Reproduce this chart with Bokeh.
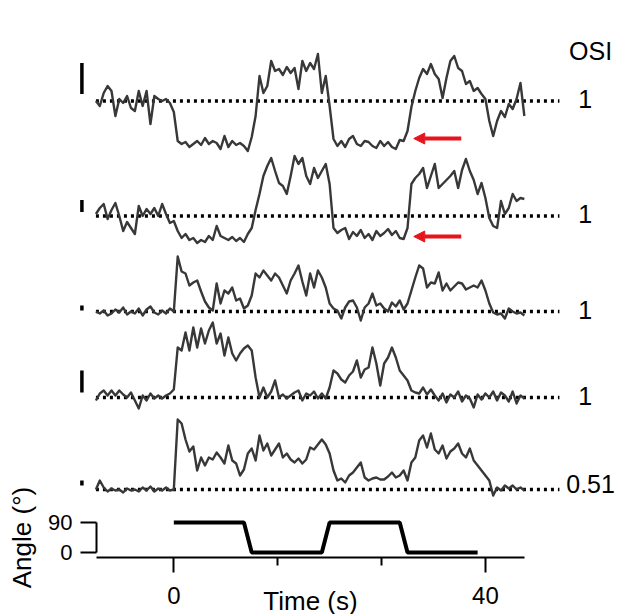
import numpy as np
from bokeh.plotting import figure
from bokeh.models import (ColumnDataSource, Label, Arrow, NormalHead, FixedTicker,
                          LinearAxis, Range1d)
from bokeh.embed import file_html
from bokeh.resources import INLINE

# ---------------- data ----------------
time_s = [-10 + 0.5 * i for i in range(111)]

trace_1 = [0, -5, 8, 15, 10, -15, 2, -2, 5, -7,
           -10, 10, -5, 10, -23, 5, 2, 0, 2, -2,
           -11, -40, -43, -41, -46, -43, -40, -44, -37, -43,
           -40, -42, -48, -35, -46, -40, -44, -42, -45, -50,
           -36, -15, 25, 8, 15, 40, 30, 32, 26, 34,
           28, 33, 12, 40, 30, 38, 32, 47, 8, 25,
           -5, -38, -45, -40, -46, -38, -35, -43, -45, -40,
           -41, -45, -47, -40, -45, -41, -46, -48, -39, -40,
           -30, -6, 10, 23, 32, 27, 37, 27, 22, 3,
           23, 40, 45, 33, 30, 17, 20, 10, 13, 7,
           2, -20, -35, -20, -10, -16, -3, -8, 2, 18, -15]

trace_2 = [2, 8, 12, -3, 6, 13, 0, -15, -6, -12,
           -18, 10, 0, 7, 2, 8, 0, 12, 2, -7,
           -5, -15, -22, -18, -24, -22, -27, -24, -26, -20,
           -24, -10, -20, -22, -24, -21, -25, -22, -26, -18,
           -12, 6, 22, 40, 50, 58, 45, 33, 30, 22,
           40, 60, 52, 58, 40, 32, 48, 38, 45, 52,
           32, -12, -17, -14, -12, -23, -16, -20, -14, -22,
           -18, -24, -15, -20, -17, -13, -19, -15, -22, -23,
           -12, 32, 38, 42, 48, 28, 40, 52, 28, 32,
           36, 40, 45, 28, 46, 57, 45, 36, 22, 33,
           18, -2, -10, -12, 15, 2, 8, 22, 15, 18, 17]

trace_3 = [0, -2, 1, -4, -2, 2, -1, 4, -3, 0,
           -2, 3, -4, 2, 5, -1, -3, 1, -2, 3,
           0, 55, 40, 38, 26, 29, 31, 20, 10, 4,
           1, 28, 8, 21, 18, 24, 11, 13, 3, 6,
           16, 38, 34, 41, 36, 31, 38, 34, 26, 18,
           31, 38, 46, 30, 16, 38, 24, 41, 34, 24,
           8, 3, 1, -7, 4, 10, 11, 4, -9, 4,
           8, 18, 6, 8, 3, 0, 9, 5, 11, 2,
           8, 21, 34, 46, 43, 24, 29, 28, 39, 21,
           28, 21, 25, 29, 28, 22, 24, 26, 24, 31,
           21, 8, -1, -3, -2, -7, 3, 0, -2, -1, -4]

trace_4 = [-3, 4, 7, 2, 7, 2, 7, 3, 0, 5,
           -3, -11, 2, -3, 4, -1, 2, -1, 2, 4,
           8, 50, 47, 65, 47, 70, 50, 69, 54, 67,
           75, 54, 64, 42, 60, 44, 37, 44, 49, 52,
           47, 20, 0, 10, 0, 6, 17, 0, 3, -1,
           2, 5, 7, -3, 4, 2, 6, -1, 4, -1,
           10, 27, 24, 18, 15, 22, 26, 37, 20, 28,
           30, 50, 34, 12, 34, 40, 50, 40, 27, 22,
           17, 7, 5, 4, 10, 3, 8, 2, -3, 4,
           -5, 3, 0, 6, -4, 2, -1, -10, 3, -2,
           4, 0, 6, -3, 5, 2, -4, 6, -6, 2, -1]

trace_5 = [0, 9, 2, -2, 1, -1, 0, -3, 1, -1,
           0, -2, 2, -1, 3, -2, 1, -1, 2, -1,
           0, 70, 66, 50, 38, 43, 19, 32, 24, 32,
           30, 37, 32, 26, 44, 29, 26, 14, 20, 36,
           41, 29, 54, 39, 46, 34, 40, 46, 32, 36,
           30, 27, 31, 26, 30, 42, 40, 45, 50, 45,
           36, 19, 9, 11, 7, 14, 17, 22, 27, 12,
           9, 11, 12, 10, 10, 13, 17, 12, 14, 19,
           9, 27, 32, 49, 54, 42, 56, 40, 36, 44,
           31, 38, 41, 46, 36, 32, 41, 29, 24, 19,
           14, 9, -6, 2, -1, 4, 1, 4, 0, 2, -1]

traces = [trace_1, trace_2, trace_3, trace_4, trace_5]
osi_labels = ["1", "1", "1", "1", "0.51"]
scale_bar = [31, 12, 5, 22, 5]          # same units as traces
arrow_trace = [0, 1]                      # traces marked with red arrows
arrow_level = [-37.5, -20.5]              # response level pointed at
arrow_time = [30.8, 36.9]                 # head / tail time (s)

stim_time = [0, 9, 10, 19, 20, 29, 30, 39]
stim_angle = [90, 90, 0, 0, 90, 90, 0, 0]
angle_ticks = [0, 90]
time_ticks = [0, 40]
time_minor_ticks = [40 / 3, 80 / 3]

# ---------------- layout constants ----------------
FONT = "Liberation Sans"
TRACE_COLOR = "#383838"
RED = "#e8141b"
baseline = [513.5, 398.5, 303, 217, 125]   # vertical offset of each trace
bar_gap = [7, 4, 1, 5, 4]                  # gap between baseline and scale bar
X_AXIS_Y = 57                              # where the time axis sits
for tr in traces:
    assert len(tr) == len(time_s)

p = figure(width=621, height=614, x_range=(-22.25, 57.47), y_range=(0, 614),
           min_border=0, toolbar_location=None, output_backend="svg",
           x_axis_location=None, y_axis_location=None, outline_line_color=None,
           extra_y_ranges={"angle": Range1d(-186, 1656)})
p.grid.visible = False

# dotted baselines
base_src = ColumnDataSource(dict(x0=[-10] * 5, x1=[49.5] * 5, y=baseline))
p.segment(x0="x0", x1="x1", y0="y", y1="y", source=base_src,
          line_color="black", line_width=3.5, line_dash="3 4")

# traces
t_arr = np.array(time_s)
for i, tr in enumerate(traces):
    p.line(t_arr, baseline[i] + np.array(tr), line_color=TRACE_COLOR,
           line_width=2.4, line_join="round")

# scale bars
bar_src = ColumnDataSource(dict(
    x=[-11.8] * 5,
    y0=[b + g for b, g in zip(baseline, bar_gap)],
    y1=[b + g + h for b, g, h in zip(baseline, bar_gap, scale_bar)]))
p.segment(x0="x", x1="x", y0="y0", y1="y1", source=bar_src,
          line_color="black", line_width=3.5)

# red arrows
for k, ti in enumerate(arrow_trace):
    yy = baseline[ti] + arrow_level[k]
    p.add_layout(Arrow(end=NormalHead(size=11, fill_color=RED, line_color=RED),
                       x_start=arrow_time[1], y_start=yy,
                       x_end=arrow_time[0], y_end=yy,
                       line_color=RED, line_width=4))

# OSI column
for i, lab in enumerate(osi_labels):
    xo = 52.8 if lab == "1" else 53.5
    dy = 2 if lab == "1" else 6
    p.add_layout(Label(x=xo, y=baseline[i] + dy, text=lab, text_align="center",
                       text_baseline="middle", text_font=FONT,
                       text_font_size="25px", text_color="black"))
p.add_layout(Label(x=53.5, y=564, text="OSI", text_align="center",
                   text_baseline="middle", text_font=FONT,
                   text_font_size="25px", text_color="black"))

# stimulus angle
p.line(stim_time, stim_angle, y_range_name="angle", line_color="black", line_width=4)

xa = LinearAxis(fixed_location=X_AXIS_Y, bounds=(-9.92, 45.02),
                ticker=FixedTicker(ticks=time_ticks, minor_ticks=time_minor_ticks),
                axis_label="Time (s)")
xa.major_tick_out = 15
xa.major_tick_in = 0
xa.minor_tick_out = 8
xa.minor_tick_in = 0
xa.axis_line_width = 2
xa.major_tick_line_width = 2
xa.minor_tick_line_width = 2
xa.major_label_text_font = FONT
xa.major_label_text_font_size = "24px"
xa.major_label_text_color = "black"
xa.major_label_standoff = 14
xa.axis_label_text_font = FONT
xa.axis_label_text_font_size = "26px"
xa.axis_label_text_font_style = "normal"
xa.axis_label_text_color = "black"
xa.axis_label_standoff = -21
p.add_layout(xa, "below")

ya = LinearAxis(y_range_name="angle", fixed_location=-9.92, bounds=(0, 90),
                ticker=FixedTicker(ticks=angle_ticks, minor_ticks=[]),
                axis_label="Angle (°)")
ya.major_tick_out = 16
ya.major_tick_in = 0
ya.minor_tick_out = 0
ya.axis_line_width = 2
ya.major_tick_line_width = 2
ya.major_label_text_font = FONT
ya.major_label_text_font_size = "22px"
ya.major_label_text_color = "black"
ya.major_label_standoff = 8
ya.axis_label_text_font = FONT
ya.axis_label_text_font_size = "26px"
ya.axis_label_text_font_style = "normal"
ya.axis_label_text_color = "black"
ya.axis_label_standoff = 8
p.add_layout(ya, "left")

open("out.html", "w").write(file_html(p, INLINE))
